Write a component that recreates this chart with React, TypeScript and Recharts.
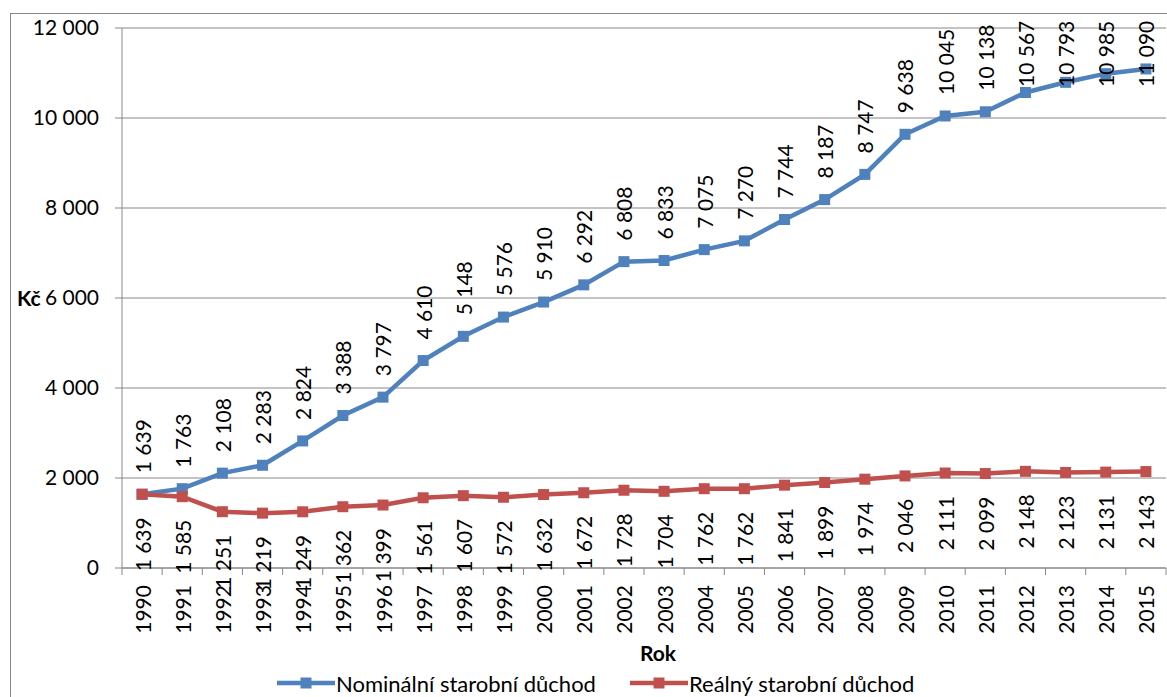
import React from 'react';
import { LineChart, Line, XAxis, YAxis, CartesianGrid, LabelList } from 'recharts';

const YEARS = [
  '1990', '1991', '1992', '1993', '1994', '1995', '1996', '1997', '1998', '1999',
  '2000', '2001', '2002', '2003', '2004', '2005', '2006', '2007', '2008', '2009',
  '2010', '2011', '2012', '2013', '2014', '2015',
];

const NOMINAL = [
  1639, 1763, 2108, 2283, 2824, 3388, 3797, 4610, 5148, 5576,
  5910, 6292, 6808, 6833, 7075, 7270, 7744, 8187, 8747, 9638,
  10045, 10138, 10567, 10793, 10985, 11090,
];

const REAL = [
  1639, 1585, 1251, 1219, 1249, 1362, 1399, 1561, 1607, 1572,
  1632, 1672, 1728, 1704, 1762, 1762, 1841, 1899, 1974, 2046,
  2111, 2099, 2148, 2123, 2131, 2143,
];

const Y_TICKS = [0, 2000, 4000, 6000, 8000, 10000, 12000];

const BLUE = '#4F81BD';
const RED = '#C0504D';
const GRID = '#888888';
const FONT = 'Lato, "Open Sans", sans-serif';
const FS = 21;

const W = 1167;
const H = 697;
const PLOT_LEFT = 122;
const PLOT_RIGHT = 1166;
const PLOT_TOP = 28;
const BAND = (PLOT_RIGHT - PLOT_LEFT) / YEARS.length;

const data = YEARS.map((year, i) => ({ year, nominal: NOMINAL[i], real: REAL[i] }));

const fmt = (v: number) => String(v).replace(/\B(?=(\d{3})+(?!\d))/g, ' ');

// rough text length for Lato (tabular digits)
const textLen = (s: string) => {
  let n = 0;
  for (const ch of s) n += ch === ' ' ? 0.195 * FS : 0.58 * FS;
  return n;
};

function SquareDot(color: string) {
  return (props: any) => {
    const { cx, cy, index } = props;
    if (cx == null || cy == null) return null;
    return <rect key={`d-${index}`} x={cx - 5.5} y={cy - 5.5} width={11} height={11} fill={color} />;
  };
}

function NominalLabel(props: any) {
  const { x, y, value } = props;
  const s = fmt(value);
  // Excel pushes labels down so they stay inside the chart area
  const ay = Math.max(y - 21, PLOT_TOP - 6 + textLen(s));
  return (
    <text
      x={x}
      y={ay}
      transform={`rotate(-90, ${x}, ${ay})`}
      textAnchor="start"
      dominantBaseline="central"
      fontSize={FS}
      fontFamily={FONT}
      fill="#000"
    >
      {s}
    </text>
  );
}

function RealLabel(props: any) {
  const { x, y, value } = props;
  const ay = y + 23;
  return (
    <text
      x={x}
      y={ay}
      transform={`rotate(-90, ${x}, ${ay})`}
      textAnchor="end"
      dominantBaseline="central"
      fontSize={FS}
      fontFamily={FONT}
      fill="#000"
    >
      {fmt(value)}
    </text>
  );
}

function YearTick(props: any) {
  const { x, y, payload, index } = props;
  const half = BAND / 2;
  return (
    <g>
      <line x1={x - half} x2={x - half} y1={y} y2={y + 7} stroke={GRID} />
      {index === YEARS.length - 1 && (
        <line x1={x + half} x2={x + half} y1={y} y2={y + 7} stroke={GRID} />
      )}
      <text
        x={x}
        y={y + 17}
        transform={`rotate(-90, ${x}, ${y + 17})`}
        textAnchor="end"
        dominantBaseline="central"
        fontSize={FS}
        fontFamily={FONT}
        fill="#000"
      >
        {payload.value}
      </text>
    </g>
  );
}

function LegendItem({ color, label, left }: { color: string; label: string; left: number }) {
  return (
    <div style={{ position: 'absolute', left, top: 670, height: 26, display: 'flex', alignItems: 'center' }}>
      <svg width={58} height={26}>
        <line x1={0} x2={58} y1={13} y2={13} stroke={color} strokeWidth={4.5} />
        <rect x={23.5} y={7.5} width={11} height={11} fill={color} />
      </svg>
      <span style={{ fontSize: 22, fontFamily: FONT, color: '#000', marginLeft: 1, whiteSpace: 'nowrap' }}>{label}</span>
    </div>
  );
}

export default function App() {
  return (
    <div style={{ position: 'fixed', left: 0, top: 0, width: W, height: H, overflow: 'hidden', background: '#fff' }}>
      <div
        style={{
          position: 'absolute',
          left: 10,
          top: 13,
          width: W + 20,
          height: H + 20,
          border: `1px solid ${GRID}`,
        }}
      />
      <div style={{ position: 'absolute', left: 0, top: 0 }}>
        <LineChart
          width={W}
          height={H}
          data={data}
          margin={{ top: PLOT_TOP, right: W - PLOT_RIGHT, bottom: 0, left: 0 }}
        >
          <CartesianGrid vertical={false} stroke={GRID} strokeDasharray="" />
          <XAxis
            dataKey="year"
            interval={0}
            height={129}
            padding={{ left: BAND / 2, right: BAND / 2 }}
            axisLine={{ stroke: GRID }}
            tickLine={false}
            tickSize={0}
            tickMargin={0}
            tick={<YearTick />}
          />
          <YAxis
            width={PLOT_LEFT}
            domain={[0, 12000]}
            ticks={Y_TICKS}
            tickFormatter={fmt}
            axisLine={{ stroke: GRID }}
            tickLine={{ stroke: GRID }}
            tickSize={7}
            tickMargin={16}
            tick={{ fill: '#000', fontSize: FS, fontFamily: FONT }}
          />
          <Line
            dataKey="nominal"
            stroke={BLUE}
            strokeWidth={4.5}
            dot={SquareDot(BLUE)}
            activeDot={false}
            isAnimationActive={false}
          >
            <LabelList dataKey="nominal" content={<NominalLabel />} />
          </Line>
          <Line
            dataKey="real"
            stroke={RED}
            strokeWidth={4.5}
            dot={SquareDot(RED)}
            activeDot={false}
            isAnimationActive={false}
          >
            <LabelList dataKey="real" content={<RealLabel />} />
          </Line>
        </LineChart>
      </div>
      <div
        style={{
          position: 'absolute',
          left: 17,
          top: 285,
          fontSize: 21,
          fontWeight: 'bold',
          fontFamily: FONT,
          color: '#000',
        }}
      >
        Kč
      </div>
      <div
        style={{
          position: 'absolute',
          left: 640,
          top: 640,
          fontSize: 21,
          fontWeight: 'bold',
          fontFamily: FONT,
          color: '#000',
        }}
      >
        Rok
      </div>
      <LegendItem color={BLUE} label="Nominální starobní důchod" left={277} />
      <LegendItem color={RED} label="Reálný starobní důchod" left={630} />
    </div>
  );
}
